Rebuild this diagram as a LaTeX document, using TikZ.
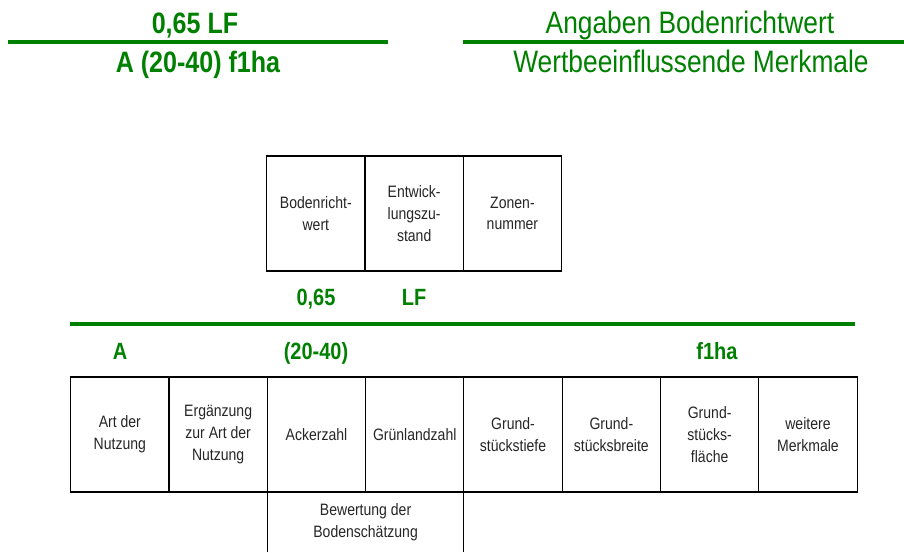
\documentclass[tikz,border=0pt]{standalone}
\usepackage{fontspec}
\setmainfont{Liberation Sans}[FakeStretch=0.85]
\definecolor{bgreen}{RGB}{0,128,0}
\begin{document}
\begin{tikzpicture}[x=1pt,y=-1pt,
  cell/.style={draw=black,line width=1.1pt,minimum width=98.3pt,minimum height=115pt,
    inner sep=0pt,outer sep=0pt,anchor=north west,align=center,
    font=\fontsize{16.5}{21.7}\selectfont,text=black!85},
  gline/.style={draw=bgreen,line width=4.2pt},
  headb/.style={text=bgreen,font=\fontsize{29.5}{34}\selectfont\bfseries,anchor=base,inner sep=0pt},
  headr/.style={text=bgreen,font=\fontsize{31}{36}\selectfont,anchor=base,inner sep=0pt},
  lab/.style={text=bgreen,font=\fontsize{23.5}{28}\selectfont\bfseries,inner sep=0pt,anchor=base}]
\useasboundingbox (0,0) rectangle (904,552);
% headings
\node[headb] (h1) at (195,33) {0,65 LF};
\node[headb] (h2) at (198,72.7) {A (20-40) f1ha};
\node[headr] (h3) at (690,33) {Angaben Bodenrichtwert};
\node[headr] (h4) at (691,72.7) {Wertbeeinflussende Merkmale};
\coordinate (l1a) at (8,42); \coordinate (l1b) at (388,42);
\coordinate (l2a) at (463,42); \coordinate (l2b) at (904,42);
\draw[gline] (l1a) -- (l1b);
\draw[gline] (l2a) -- (l2b);
% top box
\node[cell] (brw) at (266.7,156) {Bodenricht-\\wert};
\node[cell] (ewz) at (brw.north east) {Entwick-\\lungszu-\\stand};
\node[cell] (zon) at (ewz.north east) {Zonen-\\nummer};
\node[lab] (v065) at (316,305) {0,65};
\node[lab] (vlf) at (414,305) {LF};
\coordinate (m1) at (70,324); \coordinate (m2) at (855,324);
\draw[gline] (m1) -- (m2);
\node[lab] (va) at (120,359) {A};
\node[lab] (v2040) at (316,359) {(20-40)};
\node[lab] (vf1) at (717,359) {f1ha};
% bottom row
\node[cell] (c1) at (70.7,377) {Art der\\Nutzung};
\node[cell] (c2) at (c1.north east) {Ergänzung\\zur Art der\\Nutzung};
\node[cell] (c3) at (c2.north east) {Ackerzahl};
\node[cell] (c4) at (c3.north east) {Grünlandzahl};
\node[cell] (c5) at (c4.north east) {Grund-\\stückstiefe};
\node[cell] (c6) at (c5.north east) {Grund-\\stücksbreite};
\node[cell] (c7) at (c6.north east) {Grund-\\stücks-\\fläche};
\node[cell] (c8) at (c7.north east) {weitere\\Merkmale};
% lower partial box
\node[cell,draw=none,minimum width=196.6pt,minimum height=60pt] (bew) at (c3.south west) {Bewertung der\\Bodenschätzung};
\draw[line width=1.1pt] (bew.south west) -- (bew.north west) -- (bew.north east) -- (bew.south east);
\end{tikzpicture}
\end{document}
